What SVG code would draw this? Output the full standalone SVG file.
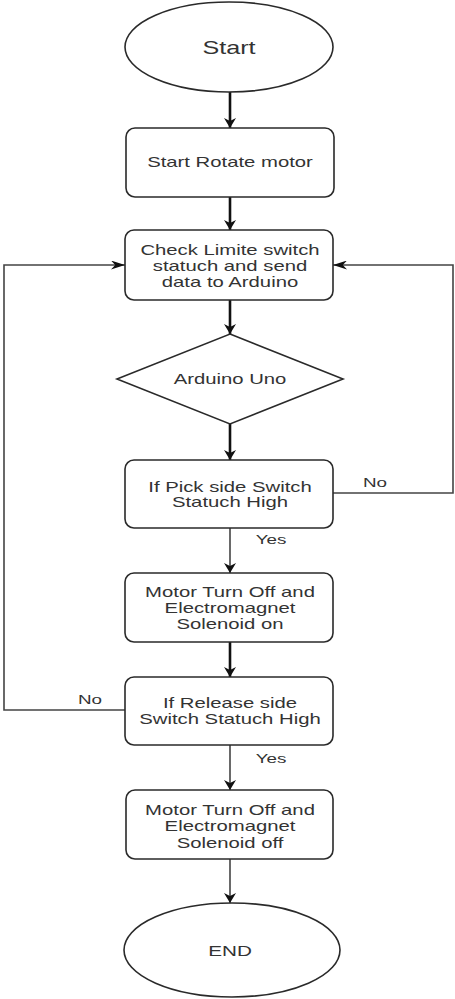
<svg xmlns="http://www.w3.org/2000/svg" width="455" height="999" viewBox="0 0 455 999">
<style>
.shape{fill:#fff;stroke:#2a2a2a;stroke-width:1.6}
.t{font-family:"Liberation Sans",Arial,sans-serif;font-size:14px;fill:#333;text-anchor:middle}
.big{font-size:18px}
.end{font-size:15px}
.lbl{font-family:"Liberation Sans",Arial,sans-serif;font-size:13px;fill:#333;text-anchor:middle}
.thick{fill:none;stroke:#111;stroke-width:2.6}
.thin{fill:none;stroke:#444;stroke-width:1.6}
</style>
<defs>
<marker id="av" viewBox="0 0 10 10" refX="10" refY="5" markerUnits="userSpaceOnUse" markerWidth="10" markerHeight="12" orient="auto" preserveAspectRatio="none">
<path d="M0,0 L10,5 L0,10 L3,5 Z" fill="#111"/>
</marker>
<marker id="ah" viewBox="0 0 10 10" refX="10" refY="5" markerUnits="userSpaceOnUse" markerWidth="14" markerHeight="9" orient="auto" preserveAspectRatio="none">
<path d="M0,0 L10,5 L0,10 L3,5 Z" fill="#111"/>
</marker>
</defs>
<rect width="455" height="999" fill="#fff"/>
<g id="connectors">
<line class="thick" x1="230" y1="92" x2="230" y2="128" marker-end="url(#av)"/>
<line class="thick" x1="230" y1="197" x2="230" y2="230" marker-end="url(#av)"/>
<line class="thick" x1="230" y1="300" x2="230" y2="334" marker-end="url(#av)"/>
<line class="thick" x1="230" y1="424" x2="230" y2="460" marker-end="url(#av)"/>
<line class="thin" x1="230" y1="528" x2="230" y2="573" marker-end="url(#av)"/>
<line class="thick" x1="230" y1="642" x2="230" y2="677" marker-end="url(#av)"/>
<line class="thin" x1="230" y1="745" x2="230" y2="790" marker-end="url(#av)"/>
<line class="thin" x1="230" y1="859" x2="230" y2="903" marker-end="url(#av)"/>
<polyline class="thin" points="333,493 453,493 453,265 333,265" marker-end="url(#ah)"/>
<polyline class="thin" points="125,710 4,710 4,265 125,265" marker-end="url(#ah)"/>
<g transform="translate(375 0) scale(1.45 1)"><text class="lbl" x="0" y="487">No</text></g>
<g transform="translate(271 0) scale(1.45 1)"><text class="lbl" x="0" y="544">Yes</text></g>
<g transform="translate(90 0) scale(1.45 1)"><text class="lbl" x="0" y="704">No</text></g>
<g transform="translate(271 0) scale(1.45 1)"><text class="lbl" x="0" y="763">Yes</text></g>
</g>
<g id="start">
<ellipse class="shape" cx="229" cy="47" rx="104" ry="45"/>
<g transform="translate(229 0) scale(1.4 1)"><text class="t big" x="0" y="54">Start</text></g>
</g>
<g id="rotate">
<rect class="shape" x="126" y="128" width="208" height="69" rx="9"/>
<g transform="translate(230 0) scale(1.45 1)"><text class="t" x="0" y="167">Start Rotate motor</text></g>
</g>
<g id="check">
<rect class="shape" x="125" y="230" width="208" height="70" rx="9"/>
<g transform="translate(230 0) scale(1.45 1)"><text class="t" x="0" y="255">Check Limite switch</text><text class="t" x="0" y="271">statuch and send</text><text class="t" x="0" y="287">data to Arduino</text></g>
</g>
<g id="arduino">
<polygon class="shape" points="230,334 343,379 230,424 117,379"/>
<g transform="translate(230 0) scale(1.45 1)"><text class="t" x="0" y="384">Arduino Uno</text></g>
</g>
<g id="pick">
<rect class="shape" x="125" y="460" width="208" height="68" rx="9"/>
<g transform="translate(230 0) scale(1.45 1)"><text class="t" x="0" y="492">If Pick side Switch</text><text class="t" x="0" y="507">Statuch High</text></g>
</g>
<g id="motor-on">
<rect class="shape" x="125" y="573" width="208" height="69" rx="9"/>
<g transform="translate(230 0) scale(1.45 1)"><text class="t" x="0" y="597">Motor Turn Off and</text><text class="t" x="0" y="613">Electromagnet</text><text class="t" x="0" y="629">Solenoid on</text></g>
</g>
<g id="release">
<rect class="shape" x="125" y="677" width="208" height="68" rx="9"/>
<g transform="translate(230 0) scale(1.45 1)"><text class="t" x="0" y="708">If Release side</text><text class="t" x="0" y="724">Switch Statuch High</text></g>
</g>
<g id="motor-off">
<rect class="shape" x="126" y="790" width="207" height="69" rx="9"/>
<g transform="translate(230 0) scale(1.45 1)"><text class="t" x="0" y="815">Motor Turn Off and</text><text class="t" x="0" y="831">Electromagnet</text><text class="t" x="0" y="848">Solenoid off</text></g>
</g>
<g id="end">
<ellipse class="shape" cx="232" cy="950" rx="108" ry="47"/>
<g transform="translate(230 0) scale(1.38 1)"><text class="t end" x="0" y="956">END</text></g>
</g>
</svg>
